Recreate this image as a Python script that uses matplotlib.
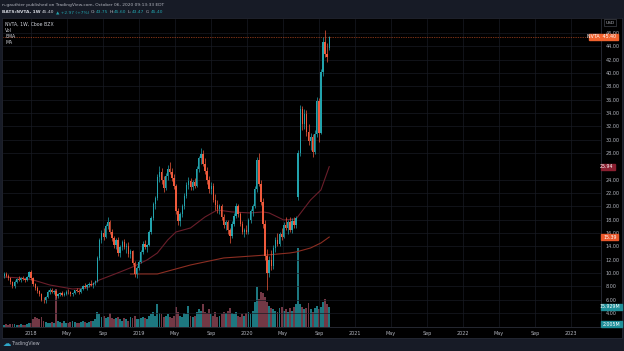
import matplotlib
matplotlib.use("Agg")
import matplotlib.pyplot as plt
import matplotlib.dates as mdates
from matplotlib.patches import Rectangle
import numpy as np
import pandas as pd

# weekly NVTA bars, Oct 2017 - Oct 2020
weeks = pd.date_range("2017-10-02", periods=158, freq="7D")

opens = [9.6, 9.8, 9.6, 9.2, 8.6, 8.0, 8.7, 9.1, 9.0, 9.2, 9.1, 8.9, 9.4,
         10.1, 9.2, 8.3, 7.7, 7.3, 6.8, 6.0, 5.9, 6.4, 7.2, 7.5, 7.2, 7.3,
         6.5, 6.8, 7.0, 6.7, 6.9, 7.2, 7.1, 6.8, 7.0, 7.4, 7.3, 7.1, 7.6,
         8.0, 7.9, 8.2, 8.4, 8.2, 8.5, 8.8, 12.2, 14.9, 16.0, 15.4, 17.0, 17.6,
         16.1, 15.2, 14.2, 14.9, 13.0, 13.9, 14.6, 13.9, 14.1, 12.8, 13.3, 11.5, 9.8,
         10.8, 11.7, 13.1, 14.4, 13.9, 14.2, 16.1, 18.3, 20.3, 21.2, 24.4, 25.2, 24.0,
         22.8, 24.6, 25.6, 25.2, 24.3, 23.0, 19.3, 17.8, 18.8, 20.0, 21.6, 23.2, 23.8,
         22.9, 23.6, 23.1, 25.6, 27.2, 27.9, 26.4, 25.3, 24.0, 22.6, 23.1, 21.0, 20.2,
         19.6, 20.0, 18.4, 17.2, 17.6, 16.4, 15.6, 17.4, 18.6, 20.1, 18.8, 17.4, 16.2,
         16.5, 16.1, 17.9, 19.3, 20.0, 22.6, 26.9, 23.4, 20.6, 17.4, 12.6, 10.0, 12.0,
         11.0, 13.8, 14.9, 14.4, 15.8, 15.4, 17.2, 16.8, 17.6, 16.5, 17.8, 17.2, 21.4,
         28.0, 34.6, 32.4, 33.8, 31.2, 29.8, 30.4, 28.2, 30.8, 35.8, 31.0, 40.2, 44.6,
         42.8, 43.75]
highs = [10.1, 10.2, 9.9, 9.4, 8.8, 8.9, 9.3, 9.5, 9.4, 9.6, 9.3, 9.5, 10.3,
         10.4, 9.4, 8.5, 8.0, 7.5, 7.0, 6.4, 6.6, 7.4, 7.7, 7.8, 7.5, 7.4,
         7.0, 7.2, 7.3, 7.1, 7.4, 7.6, 7.3, 7.2, 7.5, 7.8, 7.6, 7.7, 8.2,
         8.5, 8.3, 8.7, 8.9, 8.6, 9.0, 12.6, 15.2, 16.4, 16.8, 17.4, 18.4, 18.0,
         16.6, 15.6, 15.3, 15.4, 14.2, 15.0, 15.1, 14.5, 14.6, 13.6, 13.5, 11.8, 11.0,
         12.0, 13.4, 14.8, 15.0, 14.4, 16.4, 18.6, 20.6, 21.6, 24.8, 26.0, 25.8, 24.6,
         25.0, 26.2, 26.6, 25.8, 24.8, 23.4, 19.8, 19.2, 20.4, 22.0, 23.6, 24.4, 24.2,
         24.0, 24.3, 26.0, 27.6, 28.7, 28.4, 27.2, 25.9, 24.6, 23.6, 23.5, 21.8, 21.0,
         20.4, 20.3, 18.8, 18.0, 17.9, 16.8, 17.8, 19.0, 20.5, 20.4, 19.2, 17.8, 16.8,
         17.2, 18.2, 19.6, 20.4, 23.0, 27.4, 28.0, 24.0, 21.2, 18.0, 13.6, 12.6, 13.4,
         14.2, 15.4, 16.0, 16.2, 16.8, 17.6, 18.4, 18.0, 18.4, 18.2, 18.4, 18.6, 28.4,
         35.2, 35.0, 34.6, 34.4, 32.4, 31.0, 30.8, 31.4, 36.4, 36.2, 40.6, 45.4, 46.4,
         44.5, 45.60]
lows = [9.3, 9.4, 9.0, 8.4, 7.7, 7.8, 8.5, 8.8, 8.6, 8.9, 8.7, 8.8, 9.2,
        9.0, 8.0, 7.5, 7.0, 6.5, 5.8, 5.5, 5.5, 6.2, 6.9, 7.0, 6.8, 6.3,
        6.3, 6.5, 6.6, 6.5, 6.7, 6.9, 6.6, 6.5, 6.8, 7.1, 6.9, 7.0, 7.4,
        7.7, 7.5, 7.9, 8.0, 7.8, 8.2, 8.6, 11.9, 14.5, 15.0, 15.2, 16.6, 15.8,
        14.8, 13.8, 13.6, 12.6, 12.4, 13.5, 13.6, 13.0, 12.4, 12.2, 11.2, 9.4, 9.3,
        10.4, 11.5, 12.8, 13.6, 13.2, 14.0, 15.8, 18.0, 19.6, 21.0, 23.6, 23.4, 22.2,
        22.4, 24.0, 24.8, 23.8, 22.6, 18.8, 17.2, 17.0, 18.4, 19.6, 21.2, 22.6, 22.4,
        22.4, 22.8, 22.9, 25.2, 26.4, 26.0, 24.8, 23.4, 22.0, 21.8, 20.6, 19.4, 19.0,
        18.8, 18.0, 16.8, 16.4, 15.8, 14.5, 15.2, 17.0, 18.2, 18.4, 17.0, 15.8, 15.4,
        15.8, 15.9, 17.5, 18.6, 19.8, 22.2, 23.0, 20.2, 16.8, 12.0, 7.4, 9.4, 10.4,
        10.6, 13.2, 14.0, 14.0, 15.0, 15.2, 16.4, 15.8, 16.2, 16.0, 16.8, 16.8, 21.0,
        27.6, 31.4, 31.6, 30.6, 29.2, 28.4, 27.4, 27.8, 30.4, 29.6, 30.8, 39.6, 42.4,
        41.6, 43.47]
closes = [9.8, 9.6, 9.2, 8.6, 8.0, 8.7, 9.1, 9.0, 9.2, 9.1, 8.9, 9.4, 10.1,
          9.2, 8.3, 7.7, 7.3, 6.8, 6.0, 5.9, 6.4, 7.2, 7.5, 7.2, 7.3, 6.5,
          6.8, 7.0, 6.7, 6.9, 7.2, 7.1, 6.8, 7.0, 7.4, 7.3, 7.1, 7.6, 8.0,
          7.9, 8.2, 8.4, 8.2, 8.5, 8.8, 12.2, 14.9, 16.0, 15.4, 17.0, 17.6, 16.1,
          15.2, 14.2, 14.9, 13.0, 13.9, 14.6, 13.9, 14.1, 12.8, 13.3, 11.5, 9.8, 10.8,
          11.7, 13.1, 14.4, 13.9, 14.2, 16.1, 18.3, 20.3, 21.2, 24.4, 25.2, 24.0, 22.8,
          24.6, 25.6, 25.2, 24.3, 23.0, 19.3, 17.8, 18.8, 20.0, 21.6, 23.2, 23.8, 22.9,
          23.6, 23.1, 25.6, 27.2, 27.9, 26.4, 25.3, 24.0, 22.6, 23.1, 21.0, 20.2, 19.6,
          20.0, 18.4, 17.2, 17.6, 16.4, 15.6, 17.4, 18.6, 20.1, 18.8, 17.4, 16.2, 16.5,
          16.1, 17.9, 19.3, 20.0, 22.6, 26.9, 23.4, 20.6, 17.4, 12.6, 10.0, 12.0, 11.0,
          13.8, 14.9, 14.4, 15.8, 15.4, 17.2, 16.8, 17.6, 16.5, 17.8, 17.2, 18.3, 28.0,
          34.6, 32.4, 33.8, 31.2, 29.8, 30.4, 28.2, 30.8, 35.8, 31.0, 40.2, 44.6, 42.8,
          42.43, 45.40]
# volume, millions of shares
volume = [1.5, 2.0, 1.8, 2.2, 2.5, 2.0, 1.6, 1.8, 2.0, 1.7, 1.5, 2.2, 2.8, 3.0,
          6, 8, 7.5, 6, 8, 5, 4, 3.5, 3, 4, 3.5, 30,
          5, 4, 3.5, 4.5, 3, 3.5, 4, 5, 4, 3, 3.5, 4, 5, 4, 3.5, 4, 5, 4.5, 6,
          12, 10, 8, 9, 7, 8, 11, 7,
          6, 7, 8, 6, 5, 7, 6, 5, 8, 7, 9, 6,
          6, 7, 8, 7, 6, 9, 10, 12, 9, 18, 11, 10, 8, 9, 10, 8, 7, 9,
          16, 12, 9, 8, 11, 10, 17, 9,
          8, 9, 12, 14, 13, 18, 12, 11, 14, 10, 9, 12, 8, 9,
          10, 12, 11, 13, 15, 11, 10, 12, 9, 8, 10, 9, 11, 12, 10, 13, 20,
          32, 22, 28, 27, 24, 20, 17, 15,
          14, 13, 12, 15, 16, 13, 14, 12, 15, 13, 16, 18,
          63,
          18, 16, 14, 15, 19, 14, 12, 15, 17, 14, 16, 20, 22, 18, 15.929]

# EMA and 200-week MA at a few bars
ema_idx = [0, 8, 14, 22, 33, 40, 46, 56, 62, 69, 74, 79, 83, 90, 97, 103,
           110, 119, 125, 128, 135, 141, 148, 153, 157]
ema_val = [9.40, 9.25, 8.95, 8.20, 7.60, 7.75, 8.95, 10.15, 10.90, 11.95, 13.0,
           14.95, 16.15, 16.75, 18.40, 19.45, 19.15, 19.0, 19.15, 19.0, 17.95,
           18.1, 20.95, 22.45, 25.94]
ma_idx = [61, 74, 90, 106, 127, 138, 141, 148, 153, 157]
ma_val = [9.85, 9.85, 11.2, 12.25, 12.7, 13.0, 13.15, 13.75, 14.5, 15.39]

price_ticks = [4, 6, 8, 10, 12, 14, 16, 18, 20, 22, 24, 28, 30, 32, 34, 36,
               38, 40, 42, 44, 46]

W, H = 624, 351
UP, DOWN = "#22a3ad", "#ef5a3c"
TXT = "#b2b5be"

fig = plt.figure(figsize=(W / 100, H / 100), dpi=100, facecolor="#171b26")


def fx(px):
    return px / W


def fy(py):
    return 1 - py / H


panel = fig.add_axes([fx(2), fy(338), 620 / W, (338 - 18) / H])
panel.set_facecolor("black")
panel.set_xticks([])
panel.set_yticks([])
for s in panel.spines.values():
    s.set_color("#232733")
    s.set_linewidth(0.6)

rect = [fx(3), fy(327), 598 / W, 308 / H]
x0 = mdates.date2num(pd.Timestamp("2017-09-28"))
x1 = mdates.date2num(pd.Timestamp("2023-04-12"))
xs = mdates.date2num(weeks)

o = np.array(opens)
h = np.array(highs)
l = np.array(lows)
c = np.array(closes)
up = c >= o
cols = np.where(up, UP, DOWN)

# volume pane behind the candles
vax = fig.add_axes(rect)
vax.set_facecolor("black")
vax.bar(xs, volume, width=6.4, color=np.where(up, "#1d7880", "#723845"),
        linewidth=0)
vax.set_xlim(x0, x1)
vax.set_ylim(0, 246)
vax.axis("off")

ax = fig.add_axes(rect)
ax.patch.set_alpha(0)
ax.set_xlim(x0, x1)
ax.set_ylim(1.90, 48.08)

# grid
xt = []
xl = []
for yr in range(2018, 2024):
    for m, name in [(1, str(yr)), (5, "May"), (9, "Sep")]:
        d = mdates.date2num(pd.Timestamp(yr, m, 1))
        if x0 < d < x1:
            xt.append(d)
            xl.append(name)
ax.set_xticks(xt)
ax.set_xticklabels(xl)
ax.yaxis.tick_right()
ax.set_yticks(price_ticks)
ax.set_yticklabels(["%.2f" % v for v in price_ticks])
ax.tick_params(axis="both", length=0, labelsize=3.5, colors=TXT)
ax.tick_params(axis="x", pad=2.6)
ax.tick_params(axis="y", pad=3.2)
ax.grid(True, color="#181b23", linewidth=0.5)
ax.set_axisbelow(True)
for side in ["top", "left"]:
    ax.spines[side].set_visible(False)
for side in ["right", "bottom"]:
    ax.spines[side].set_color("#2a2e39")
    ax.spines[side].set_linewidth(0.6)

# moving averages
ax.plot(xs[ema_idx], ema_val, color="#6a1e2a", lw=0.8, zorder=2)
ax.plot(xs[ma_idx], ma_val, color="#8c2e22", lw=0.8, zorder=2)

# candles
ax.vlines(xs, l, h, colors=cols, lw=0.5, zorder=3)
ax.bar(xs, np.abs(c - o), bottom=np.minimum(o, c), width=4.6, color=cols,
       linewidth=0, zorder=4)

# last price line
ax.axhline(closes[-1], color="#f0622e", lw=0.5, ls=(0, (1, 1.5)), zorder=1)


def price_box(py, text, fc, left=601, right=617):
    fig.patches.append(Rectangle((fx(left), fy(py + 3)), (right - left) / W,
                                 6 / H, transform=fig.transFigure, color=fc,
                                 zorder=5))
    fig.text(fx(right - 1.5), fy(py), text, color="white", fontsize=3.4,
             ha="right", va="center", zorder=6)


def y_of(price):
    return 313 - (price - 4) * 6.67


price_box(y_of(closes[-1]), "NVTA  45.40", "#f0622e", left=589, right=618)
price_box(y_of(ema_val[-1]), "25.94", "#8a1f30", right=615)
price_box(y_of(ma_val[-1]), "15.39", "#e9572b", right=618)
price_box(307, "15.929M", "#1f8f99", right=622)
price_box(324, "2.005M", "#1f8f99", right=622)

# USD label
fig.text(fx(610), fy(22.5), "USD", color=TXT, fontsize=3.2, ha="center",
         va="center", bbox=dict(boxstyle="square,pad=0.25", fc="black",
                                ec="#50535e", lw=0.4))

# legend
for i, s in enumerate(["NVTA, 1W, Cboe BZX", "Vol", "EMA", "MA"]):
    fig.text(fx(5), fy(24 + 6.2 * i), s, color="#d1d4dc", fontsize=3.3,
             va="center")

# header lines
fig.text(fx(2), fy(5), "n-gauthier published on TradingView.com, "
         "October 06, 2020 09:13:33 EDT", color=TXT, fontsize=3.15,
         va="center")

r = fig.canvas.get_renderer()
parts = [("BATS:NVTA, 1W", "#d1d4dc", "bold"), ("45.40", "#d1d4dc", "normal"),
         ("\u25b2 +2.97 (+7%)", UP, "normal"), ("O:", TXT, "normal"),
         ("43.75", UP, "normal"), ("H:", TXT, "normal"), ("45.60", UP, "normal"),
         ("L:", TXT, "normal"), ("43.47", UP, "normal"), ("C:", TXT, "normal"),
         ("45.40", UP, "normal")]
x = fx(2)
for s, col, wgt in parts:
    t = fig.text(x, fy(12), s, color=col, fontsize=3.15, fontweight=wgt,
                 va="center")
    bb = t.get_window_extent(renderer=r)
    gap = 0.3 if s.endswith(":") else 1.3
    x = (bb.x1 + gap) / fig.bbox.width

# footer
fig.text(fx(3), fy(344), "\u2601", color="#2ea6c8", fontsize=6, va="center")
fig.text(fx(11.5), fy(344), "TradingView", color=TXT, fontsize=3.4,
         va="center")

fig.savefig("out.png", dpi=100, facecolor=fig.get_facecolor())
